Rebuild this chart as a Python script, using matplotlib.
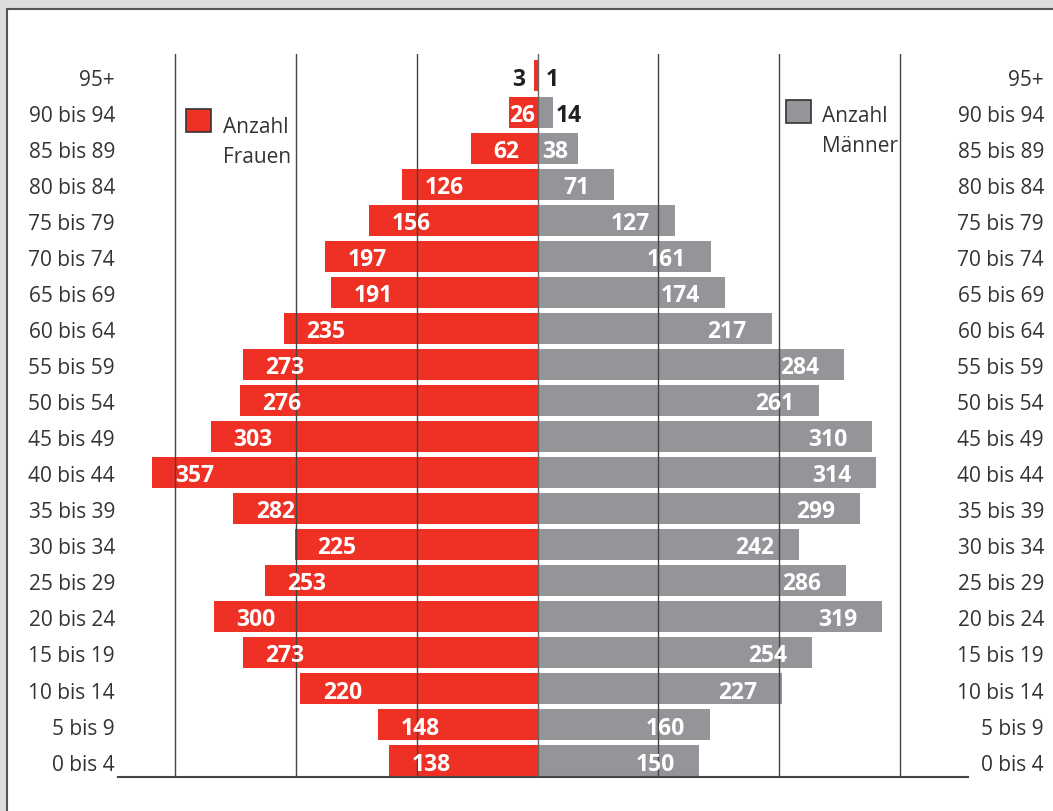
import matplotlib
matplotlib.use("Agg")
import matplotlib.pyplot as plt
from matplotlib.patches import Rectangle

# ---- data (bottom to top) ----
age_groups = ["0 bis 4", "5 bis 9", "10 bis 14", "15 bis 19", "20 bis 24", "25 bis 29",
              "30 bis 34", "35 bis 39", "40 bis 44", "45 bis 49", "50 bis 54", "55 bis 59",
              "60 bis 64", "65 bis 69", "70 bis 74", "75 bis 79", "80 bis 84", "85 bis 89",
              "90 bis 94", "95+"]
frauen = [138, 148, 220, 273, 300, 253, 225, 282, 357, 303, 276, 273, 235, 191, 197, 156,
          126, 62, 26, 3]
maenner = [150, 160, 227, 254, 319, 286, 242, 299, 314, 310, 261, 284, 217, 174, 161, 127,
           71, 38, 14, 1]
grid_values = [-336, -224, -112, 0, 112, 224, 336]
legend_frauen = ["Anzahl", "Frauen"]
legend_maenner = ["Anzahl", "Männer"]

RED = "#ee3124"
GRAY = "#939598"
DARK = "#231f20"
TXT = "#333333"
FONT = "Open Sans"

W, H = 1053, 812
fig = plt.figure(figsize=(W / 100, H / 100), dpi=100)
fig.patch.set_facecolor("#dcdddf")

def fx(px):
    return px / W

def fy(py):
    return 1 - py / H

# white panel with border
fig.patches.append(Rectangle((fx(7), -0.1), 1.2, fy(10) + 0.1, transform=fig.transFigure,
                             facecolor="white", edgecolor="#555555", linewidth=1.5, zorder=-5))

ax = fig.add_axes([fx(118), fy(778), fx(968) - fx(118), fy(55) - fy(778)])
ax.set_facecolor("none")
ax.set_zorder(1)
scale = 1.0789
cx = 537.5
ax.set_xlim((118 - cx) / scale, (968 - cx) / scale)
ax.set_ylim(-0.444, 19.61)

ypos = list(range(len(age_groups)))
ax.barh(ypos, [-v for v in frauen], height=0.86, color=RED, zorder=2)
ax.barh(ypos, maenner, height=0.86, color=GRAY, zorder=2)

for g in grid_values:
    ax.axvline(g, color="#444444" if g else "#666666", linewidth=1.0, zorder=3)

for s in ["top", "left", "right"]:
    ax.spines[s].set_visible(False)
ax.spines["bottom"].set_color("#444444")
ax.spines["bottom"].set_linewidth(1.5)
ax.set_xticks([])
ax.set_yticks([])

base_off = 0.24  # baseline offset in row units
fs_val = 16.5
digit_w = 11.5  # approx width of one digit in data units

for i, (f, m) in enumerate(zip(frauen, maenner)):
    yb = i - base_off
    # women
    if f < 20:
        ax.text(-f - 8, yb, str(f), ha="right", va="baseline", color=DARK,
                fontsize=fs_val, fontweight="bold", family=FONT, zorder=4)
    else:
        x0 = -f + 21
        w = len(str(f)) * digit_w
        if x0 + w > -3:
            ax.text(-2.5, yb, str(f), ha="right", va="baseline", color="white",
                    fontsize=fs_val, fontweight="bold", family=FONT, zorder=4)
        else:
            ax.text(x0, yb, str(f), ha="left", va="baseline", color="white",
                    fontsize=fs_val, fontweight="bold", family=FONT, zorder=4)
    # men
    if m < 20:
        ax.text(max(m + 3, 8), yb, str(m), ha="left", va="baseline", color=DARK,
                fontsize=fs_val, fontweight="bold", family=FONT, zorder=4)
    else:
        x1 = m - 23
        w = len(str(m)) * digit_w
        if x1 - w < 3:
            ax.text(4, yb, str(m), ha="left", va="baseline", color="white",
                    fontsize=fs_val, fontweight="bold", family=FONT, zorder=4)
        else:
            ax.text(x1, yb, str(m), ha="right", va="baseline", color="white",
                    fontsize=fs_val, fontweight="bold", family=FONT, zorder=4)

# category labels both sides
xl = (115 - cx) / scale
xr = (1044 - cx) / scale
for i, lab in enumerate(age_groups):
    ax.text(xl, i - base_off, lab, ha="right", va="baseline", color=TXT, fontsize=15,
            family=FONT, clip_on=False)
    ax.text(xr, i - base_off, lab, ha="right", va="baseline", color=TXT, fontsize=15,
            family=FONT, clip_on=False)

# legends
fig.patches.append(Rectangle((fx(186), fy(133)), fx(211) - fx(186), fy(110) - fy(133),
                             transform=fig.transFigure, facecolor=RED, edgecolor="#333333",
                             linewidth=1.2, zorder=5))
fig.text(fx(223), fy(133), legend_frauen[0], ha="left", va="baseline", fontsize=15,
         color=TXT, family=FONT)
fig.text(fx(223), fy(163), legend_frauen[1], ha="left", va="baseline", fontsize=15,
         color=TXT, family=FONT)

fig.patches.append(Rectangle((fx(786), fy(124)), fx(811) - fx(786), fy(101) - fy(124),
                             transform=fig.transFigure, facecolor=GRAY, edgecolor="#333333",
                             linewidth=1.2, zorder=5))
fig.text(fx(822), fy(122), legend_maenner[0], ha="left", va="baseline", fontsize=15,
         color=TXT, family=FONT)
fig.text(fx(822), fy(152), legend_maenner[1], ha="left", va="baseline", fontsize=15,
         color=TXT, family=FONT)

fig.savefig("out.png", dpi=100, facecolor=fig.get_facecolor())
